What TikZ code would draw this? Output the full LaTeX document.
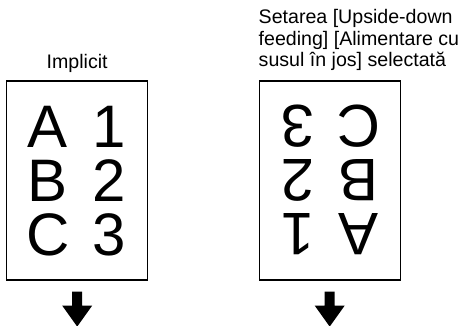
\documentclass[tikz,border=0pt]{standalone}
\usepackage{fontspec}
\setmainfont{Liberation Sans}
\usetikzlibrary{calc}

\begin{document}
\begin{tikzpicture}[x=0.5pt,y=-0.5pt,
  page/.style={draw,line width=0.6pt,minimum width=70.5pt,minimum height=99.5pt,inner sep=0pt},
  glyph/.style={inner sep=0pt,font=\fontsize{30}{30}\selectfont},
  caption/.style={inner sep=0pt,font=\fontsize{9.8}{10.85}\selectfont}]
\useasboundingbox (0,0) rectangle (466,326);

%headings:
 \node[caption,anchor=base] (capL) at (77.2,68.3) {Implicit};
 \node[caption,anchor=base west,align=left] (capR) at (258.3,66.7)
   {Setarea [Upside-down\\feeding] [Alimentare cu\\susul în jos] selectată};

%pages
 \node[page] (pageL) at (77.2,180.5) {};
 \node[page] (pageR) at (329.7,180.5) {};

%letters, normal and turned round
 \foreach \row/\lt/\num in {0/A/1,1/B/2,2/C/3}{
  \node[glyph] (l\lt) at ($(pageL)+(-29.2,-54+54*\row)$) {\lt};
  \node[glyph] (ld\num) at ($(pageL)+(32,-54+54*\row)$) {\num};
  \node[glyph,rotate=180] (r\lt) at ($(pageR)+(29.2,54-54*\row)$) {\lt};
  \node[glyph,rotate=180] (rd\num) at ($(pageR)+(-32,54-54*\row)$) {\num};
 }

%feed arrows
 \foreach \p in {pageL,pageR}
  \fill ($(\p.south)+(-5,11)$) -- ++(10,0) -- ++(0,14) -- ++(10,0)
   -- ($(\p.south)+(0,46)$) -- ($(\p.south)+(-15,25)$) -- ++(10,0) -- cycle;
\end{tikzpicture}
\end{document}
